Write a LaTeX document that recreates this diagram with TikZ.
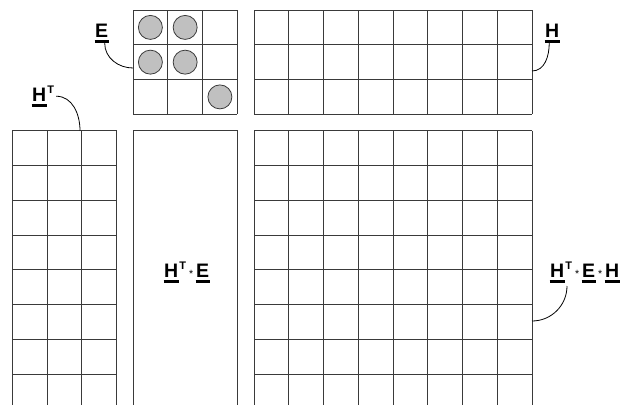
\documentclass[tikz,border=0pt]{standalone}
\usepackage{fontspec}
\setmainfont{Liberation Sans}
\usetikzlibrary{calc,positioning}
\definecolor{gridink}{HTML}{3A3A3A}
\definecolor{dotgray}{HTML}{C0C0C0}
\newcommand{\uvec}[1]{\setbox0=\hbox{\bfseries #1}\rlap{\kern-0.5pt\rule[-6pt]{\dimexpr\wd0+1pt\relax}{3pt}}\box0}
\newcommand{\tsup}{\kern1pt\raisebox{8pt}{\fontsize{11}{11}\selectfont\bfseries T}}
\newcommand{\tstar}{\kern3pt{\fontsize{10.5}{10.5}\selectfont *}\kern3pt}
\tikzset{
  cell/.style={draw=gridink, line width=0.9pt},
  dot/.style={draw=gridink, fill=dotgray, line width=0.8pt},
  lbl/.style={inner sep=0pt, anchor=base west, font=\fontsize{19.5}{19.5}\selectfont},
  lead/.style={draw=black, line width=0.8pt}
}
\begin{document}
\begin{tikzpicture}[x=1pt, y=-1pt]
  \useasboundingbox (0,0) rectangle (625,405);

  % E (3x3)
  \foreach \i in {0,...,3} {
    \draw[cell] (133+\i*34.75,10) -- (133+\i*34.75,114.25);
    \draw[cell] (133,10+\i*34.75) -- (237.25,10+\i*34.75);
  }
  \foreach \p/\q in {0/0,1/0,0/1,1/1,2/2}
    \draw[dot] (150.4+\p*34.75,27.4+\q*34.75) circle (12);

  % H (3x8)
  \foreach \i in {0,...,8}
    \draw[cell] (254+\i*34.75,10) -- (254+\i*34.75,114.25);
  \foreach \j in {0,...,3}
    \draw[cell] (254,10+\j*34.75) -- (532,10+\j*34.75);

  % H^T (8x3, cut at the bottom)
  \foreach \i in {0,...,3}
    \draw[cell] (12.3+\i*34.75,130.7) -- (12.3+\i*34.75,405);
  \foreach \j in {0,...,7}
    \draw[cell] (12.3,130.7+\j*34.75) -- (116.55,130.7+\j*34.75);

  % H^T*E
  \draw[cell] (133,405) -- (133,130.7) -- (237.25,130.7) -- (237.25,405);

  % H^T*E*H
  \foreach \i in {0,...,8}
    \draw[cell] (254+\i*34.75,130.7) -- (254+\i*34.75,405);
  \foreach \j in {0,...,7}
    \draw[cell] (254,130.7+\j*34.75) -- (532,130.7+\j*34.75);

  % labels
  \node[lbl] (lE) at (95,37) {\uvec{E}};
  \node[lbl] (lHT) at (32,101) {\uvec{H}\tsup};
  \node[lbl] (lH) at (545,37) {\uvec{H}};
  \node[lbl] (lHTE) at (164,277) {\uvec{H}\tsup\tstar\uvec{E}};
  \node[lbl] (lHTEH) at (550,277) {\uvec{H}\tsup\tstar\uvec{E}\tstar\uvec{H}};

  \coordinate (eE) at (133,68);
  \coordinate (eHT) at (80,130.7);
  \coordinate (eH) at (532,71);
  \coordinate (sHTEH) at (567,286);
  \coordinate (eHTEH) at (532,321);

  \draw[lead] (lE.south) ++(3,0) to[out=-90,in=180] (eE);
  \draw[lead] (lHT.east) ++(2,0) to[out=0,in=90] (eHT);
  \draw[lead] (lH.south) ++(-3,0) to[out=-90,in=0] (eH);
  \draw[lead] (sHTEH) to[out=-90,in=0] (eHTEH);
\end{tikzpicture}
\end{document}
